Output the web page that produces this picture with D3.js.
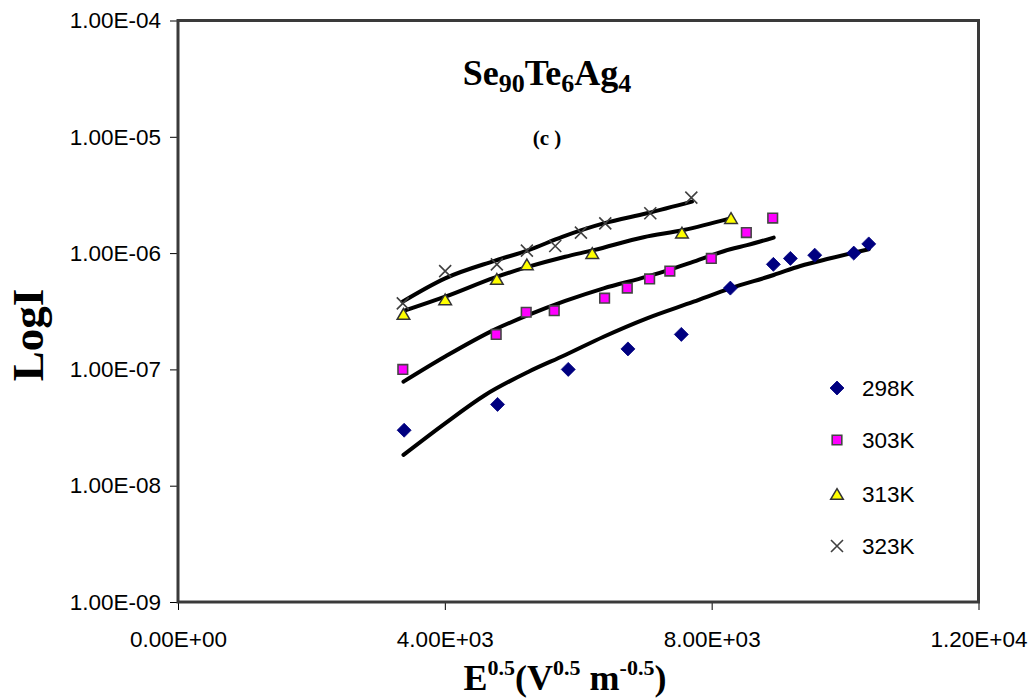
<!DOCTYPE html>
<html>
<head>
<meta charset="utf-8">
<script src="https://cdn.jsdelivr.net/npm/d3@7"></script>
<style>
  body { margin: 0; background: #fff; }
  svg { display: block; }
</style>
</head>
<body>
<svg id="chart" width="1031" height="698"></svg>
<script>
// Axis ticks and their printed labels
const xTicks = [0, 4000, 8000, 12000];
const xTickLabels = ["0.00E+00", "4.00E+03", "8.00E+03", "1.20E+04"];
const yTicks = [1e-9, 1e-8, 1e-7, 1e-6, 1e-5, 1e-4];
const yTickLabels = ["1.00E-09", "1.00E-08", "1.00E-07", "1.00E-06", "1.00E-05", "1.00E-04"];

// Series names (temperatures)
const seriesNames = ["298K", "303K", "313K", "323K"];

// Measured current vs E^0.5 for each temperature
const x298 = [3390, 4790, 5850, 6745, 7545, 8280, 8925, 9180, 9545, 10130, 10355];
const y298 = [3.0e-8, 5.0e-8, 1.0e-7, 1.5e-7, 2.0e-7, 5.0e-7, 8.0e-7, 9.0e-7, 9.6e-7, 1.0e-6, 1.2e-6];

const x303 = [3370, 4770, 5220, 5640, 6395, 6735, 7070, 7373, 7995, 8520, 8915];
const y303 = [1.0e-7, 2.0e-7, 3.1e-7, 3.2e-7, 4.1e-7, 5.0e-7, 6.0e-7, 7.0e-7, 9.0e-7, 1.5e-6, 2.0e-6];

const x313 = [3380, 4005, 4780, 5230, 6210, 7555, 8290];
const y313 = [3.0e-7, 4.0e-7, 6.0e-7, 8.0e-7, 1.0e-6, 1.5e-6, 2.0e-6];

const x323 = [3370, 4005, 4780, 5230, 5655, 6040, 6405, 7080, 7695];
const y323 = [3.7e-7, 7.0e-7, 8.0e-7, 1.05e-6, 1.15e-6, 1.5e-6, 1.8e-6, 2.2e-6, 3.0e-6];

// Fitted curves through each data set
const fit298x = [3380, 4005, 4605, 5255, 5805, 6380, 7030, 7730, 8280, 8930, 9330, 9780, 10355];
const fit298y = [1.84e-8, 3.44e-8, 6.03e-8, 9.55e-8, 1.33e-7, 1.91e-7, 2.75e-7, 3.82e-7, 4.98e-7, 6.48e-7, 7.75e-7, 9.02e-7, 1.08e-6];

const fit303x = [3380, 4005, 4755, 5255, 5805, 6380, 7030, 7730, 8280, 8530, 8930];
const fit303y = [7.84e-8, 1.29e-7, 2.21e-7, 2.94e-7, 3.88e-7, 4.98e-7, 6.27e-7, 8.44e-7, 1.08e-6, 1.17e-6, 1.36e-6];

const fit313x = [3395, 4005, 4755, 5255, 5805, 6230, 6980, 7580, 8280];
const fit313y = [3.2e-7, 4.22e-7, 6.19e-7, 7.64e-7, 9.31e-7, 1.06e-6, 1.37e-6, 1.58e-6, 1.99e-6];

const fit323x = [3365, 4005, 4755, 5255, 5760, 6380, 7030, 7705];
const fit323y = [3.82e-7, 6.07e-7, 8.61e-7, 1.06e-6, 1.38e-6, 1.80e-6, 2.2e-6, 2.77e-6];

// ---- layout ----
const plot = { left: 178, right: 978.5, top: 20.5, bottom: 602 };
const svg = d3.select("#chart");

const x = d3.scaleLinear().domain([0, 12000]).range([plot.left, plot.right]);
const y = d3.scaleLog().domain([1e-9, 1e-4]).range([plot.bottom, plot.top]);

const sansFont = "'Liberation Sans', Arial, sans-serif";
const serifFont = "'Liberation Serif', 'Times New Roman', serif";
const labelSize = 22.5;

// y axis (ticks only; frame drawn separately)
const yAxis = svg.append("g")
  .attr("transform", `translate(${plot.left},0)`)
  .call(d3.axisLeft(y).tickValues(yTicks)
    .tickFormat((d, i) => yTickLabels[i]).tickSize(8).tickPadding(9));
yAxis.select(".domain").remove();
yAxis.selectAll(".tick line").attr("stroke", "#000").attr("stroke-width", 1);
yAxis.selectAll("text").attr("font-family", sansFont).attr("font-size", labelSize).attr("fill", "#000");

// x axis
const xAxis = svg.append("g")
  .attr("transform", `translate(0,${plot.bottom})`)
  .call(d3.axisBottom(x).tickValues(xTicks)
    .tickFormat((d, i) => xTickLabels[i]).tickSize(8).tickPadding(21));
xAxis.select(".domain").remove();
xAxis.selectAll(".tick line").attr("stroke", "#000").attr("stroke-width", 1);
xAxis.selectAll("text").attr("font-family", sansFont).attr("font-size", labelSize).attr("fill", "#000");

// plot-area frame
svg.append("rect")
  .attr("x", plot.left).attr("y", plot.top)
  .attr("width", plot.right - plot.left).attr("height", plot.bottom - plot.top)
  .attr("fill", "none").attr("stroke", "#3a3a3a").attr("stroke-width", 3);

// fitted curves
const line = d3.line()
  .x(d => x(d[0])).y(d => y(d[1]))
  .curve(d3.curveMonotoneX);
const fits = [
  [fit298x, fit298y], [fit303x, fit303y], [fit313x, fit313y], [fit323x, fit323y]
];
svg.append("g").selectAll("path").data(fits).join("path")
  .attr("d", f => line(f[0].map((v, i) => [v, f[1][i]])))
  .attr("fill", "none").attr("stroke", "#000").attr("stroke-width", 4)
  .attr("stroke-linecap", "round").attr("stroke-linejoin", "round");

// marker shapes; the size argument is the half-width in pixels
const diamond = { draw(c, r) { c.moveTo(0, -r); c.lineTo(r, 0); c.lineTo(0, r); c.lineTo(-r, 0); c.closePath(); } };
const square = { draw(c, r) { c.rect(-r, -r, 2 * r, 2 * r); } };
const triangle = { draw(c, r) { const h = r * 0.85; c.moveTo(0, -h); c.lineTo(r, h); c.lineTo(-r, h); c.closePath(); } };
const cross = { draw(c, r) { c.moveTo(-r, -r); c.lineTo(r, r); c.moveTo(r, -r); c.lineTo(-r, r); } };

const markers = [
  { type: diamond, size: 7, fill: "#000080", stroke: "#000080", sw: 0.8 },
  { type: square, size: 4.8, fill: "#ff00ff", stroke: "#454545", sw: 1.6 },
  { type: triangle, size: 6.3, fill: "#ffff00", stroke: "#333333", sw: 1.5 },
  { type: cross, size: 6, fill: "none", stroke: "#404040", sw: 1.6 }
];
const pointSets = [[x298, y298], [x303, y303], [x313, y313], [x323, y323]];

pointSets.forEach((ps, k) => {
  const m = markers[k];
  const pts = ps[0].map((v, i) => [v, ps[1][i]]);
  svg.append("g").selectAll("path").data(pts).join("path")
    .attr("transform", d => `translate(${x(d[0])},${y(d[1])})`)
    .attr("d", d3.symbol().type(m.type).size(m.size))
    .attr("fill", m.fill).attr("stroke", m.stroke).attr("stroke-width", m.sw);
});

// legend
const legendY = [388, 440, 494, 546];
const legend = svg.append("g");
seriesNames.forEach((name, k) => {
  const m = markers[k];
  legend.append("path")
    .attr("transform", `translate(837,${legendY[k]})`)
    .attr("d", d3.symbol().type(m.type).size(m.size))
    .attr("fill", m.fill).attr("stroke", m.stroke).attr("stroke-width", m.sw);
  legend.append("text")
    .attr("x", 862).attr("y", legendY[k] + 8)
    .attr("font-family", sansFont).attr("font-size", labelSize).attr("fill", "#000")
    .text(name);
});

// chart title with subscripts
const title = svg.append("text")
  .attr("x", 547).attr("y", 85)
  .attr("text-anchor", "middle")
  .attr("font-family", serifFont).attr("font-weight", "bold")
  .attr("font-size", 36).attr("fill", "#000");
[["Se", false], ["90", true], ["Te", false], ["6", true], ["Ag", false], ["4", true]]
  .forEach(([t, sub], i, arr) => {
    const prevSub = i > 0 && arr[i - 1][1];
    let dy = 0;
    if (sub && !prevSub) dy = 7;
    if (!sub && prevSub) dy = -7;
    title.append("tspan").attr("dy", dy).attr("font-size", sub ? 26 : 36).text(t);
  });

svg.append("text")
  .attr("x", 547).attr("y", 145)
  .attr("text-anchor", "middle")
  .attr("font-family", serifFont).attr("font-weight", "bold")
  .attr("font-size", 21).attr("fill", "#000")
  .text("(c )");

// x-axis title with superscripts
const xTitle = svg.append("text")
  .attr("x", 565).attr("y", 690)
  .attr("text-anchor", "middle")
  .attr("font-family", serifFont).attr("font-weight", "bold")
  .attr("font-size", 36).attr("fill", "#000");
[["E", false], ["0.5", true], ["(V", false], ["0.5", true], [" m", false], ["-0.5", true], [")", false]]
  .forEach(([t, sup], i, arr) => {
    const prevSup = i > 0 && arr[i - 1][1];
    let dy = 0;
    if (sup && !prevSup) dy = -15;
    if (!sup && prevSup) dy = 15;
    xTitle.append("tspan").attr("dy", dy).attr("font-size", sup ? 22 : 36).text(t);
  });

// y-axis title
svg.append("text")
  .attr("transform", "translate(43,335) rotate(-90)")
  .attr("text-anchor", "middle")
  .attr("font-family", serifFont).attr("font-weight", "bold")
  .attr("font-size", 45).attr("fill", "#000")
  .text("LogI");
</script>
</body>
</html>
